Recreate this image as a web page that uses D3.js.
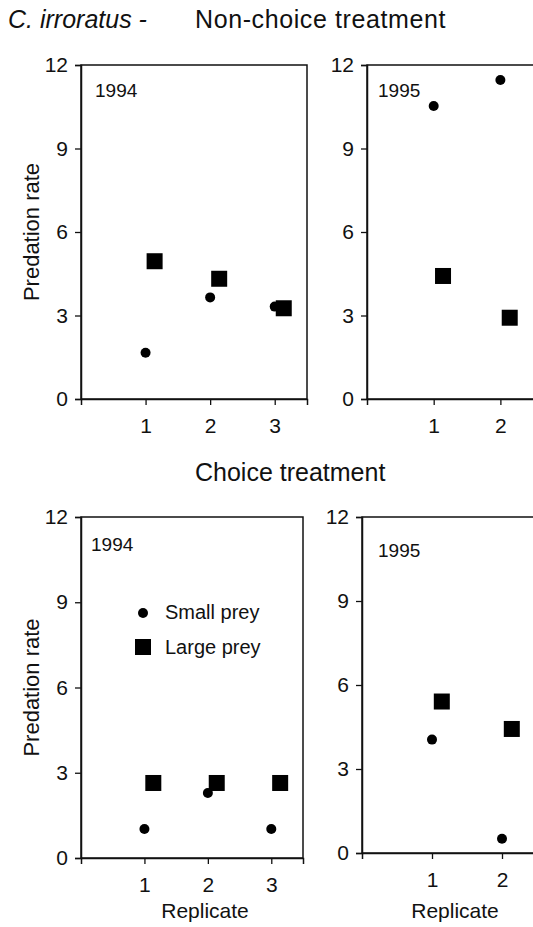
<!DOCTYPE html>
<html><head><meta charset="utf-8">
<script src="https://cdn.jsdelivr.net/npm/d3@7"></script>
<style>
html,body{margin:0;padding:0;background:#fff;}
svg{display:block;font-family:"Liberation Sans",Arial,sans-serif;}
</style></head>
<body>
<svg id="c" width="533" height="927"></svg>
<script>
// ---- data ----
const yTicks = [0, 3, 6, 9, 12];
const nc1994Reps = [1, 2, 3];
const nc1994Small = [1.66, 3.65, 3.32];
const nc1994Large = [4.95, 4.32, 3.26];
const nc1995Reps = [1, 2];
const nc1995Small = [10.53, 11.46];
const nc1995Large = [4.42, 2.92];
const ch1994Reps = [1, 2, 3];
const ch1994Small = [1.02, 2.29, 1.02];
const ch1994Large = [2.64, 2.64, 2.64];
const ch1995Reps = [1, 2];
const ch1995Small = [4.05, 0.51];
const ch1995Large = [5.41, 4.43];
const legendLabels = ["Small prey", "Large prey"];

const svg = d3.select("#c");
const ink = "#111";
const squareOffset = 0.14;

const panels = [
  {reps: nc1994Reps, small: nc1994Small, large: nc1994Large, year: "1994",
   l: 81, r: 307, t: 65, b: 399, xmax: 3.5, ylab: true, xlab: false, legend: false, yearX: 95, yearY: 97},
  {reps: nc1995Reps, small: nc1995Small, large: nc1995Large, year: "1995",
   l: 367, r: 540.4, t: 65, b: 399, xmax: 2.6, ylab: false, xlab: false, legend: false, yearX: 378, yearY: 97},
  {reps: ch1994Reps, small: ch1994Small, large: ch1994Large, year: "1994",
   l: 81, r: 303, t: 517, b: 858, xmax: 3.5, ylab: true, xlab: true, xlabX: 205, legend: true, yearX: 91, yearY: 551},
  {reps: ch1995Reps, small: ch1995Small, large: ch1995Large, year: "1995",
   l: 362, r: 544, t: 517, b: 853, xmax: 2.6, ylab: false, xlab: true, xlabX: 455, legend: false, yearX: 378, yearY: 557}
];

panels.forEach(p => {
  const x = d3.scaleLinear().domain([0, p.xmax]).range([p.l, p.r]);
  const y = d3.scaleLinear().domain([0, 12]).range([p.b, p.t]);
  const g = svg.append("g");

  g.append("rect").attr("x", p.l).attr("y", p.t).attr("width", p.r - p.l).attr("height", p.b - p.t)
    .attr("fill", "none").attr("stroke", ink).attr("stroke-width", 1.5);

  const ya = g.append("g").attr("transform", `translate(${p.l},0)`)
    .call(d3.axisLeft(y).tickValues(yTicks).tickSize(6).tickPadding(7).tickFormat(d3.format("d")));
  ya.select(".domain").attr("stroke", ink).attr("stroke-width", 1.5);
  ya.selectAll(".tick line").attr("stroke", ink).attr("stroke-width", 1.3);
  ya.selectAll(".tick text").attr("font-size", 21).attr("fill", ink).attr("font-family", "Liberation Sans, Arial, sans-serif");

  const xa = g.append("g").attr("transform", `translate(0,${p.b})`)
    .call(d3.axisBottom(x).tickValues(p.reps).tickSize(6).tickPadding(13).tickFormat(d3.format("d")));
  xa.select(".domain").attr("stroke", ink).attr("stroke-width", 1.5);
  xa.selectAll(".tick line").attr("stroke", ink).attr("stroke-width", 1.3);
  xa.selectAll(".tick text").attr("font-size", 21).attr("fill", ink).attr("font-family", "Liberation Sans, Arial, sans-serif");

  g.append("text").attr("x", p.yearX).attr("y", p.yearY).attr("font-size", 19).attr("fill", ink).text(p.year);

  g.selectAll("circle.sm").data(p.reps.map((r, i) => ({r, v: p.small[i]}))).join("circle")
    .attr("class", "sm").attr("cx", d => x(d.r)).attr("cy", d => y(d.v)).attr("r", 5).attr("fill", "#000");

  const s = 16;
  g.selectAll("rect.lg").data(p.reps.map((r, i) => ({r, v: p.large[i]}))).join("rect")
    .attr("class", "lg").attr("x", d => x(d.r + squareOffset) - s / 2).attr("y", d => y(d.v) - s / 2)
    .attr("width", s).attr("height", s).attr("fill", "#000");

  if (p.ylab) {
    g.append("text").attr("transform", `translate(${p.l - 42},${(p.t + p.b) / 2}) rotate(-90)`)
      .attr("text-anchor", "middle").attr("font-size", 22).attr("fill", ink).text("Predation rate");
  }
  if (p.xlab) {
    g.append("text").attr("x", p.xlabX).attr("y", 918).attr("text-anchor", "middle")
      .attr("font-size", 21).attr("fill", ink).text("Replicate");
  }
  if (p.legend) {
    const lg = g.append("g");
    lg.append("circle").attr("cx", 143).attr("cy", 613).attr("r", 5).attr("fill", "#000");
    lg.append("text").attr("x", 165).attr("y", 619).attr("font-size", 20).attr("fill", ink).text(legendLabels[0]);
    lg.append("rect").attr("x", 143 - s / 2).attr("y", 647 - s / 2).attr("width", s).attr("height", s).attr("fill", "#000");
    lg.append("text").attr("x", 165).attr("y", 654).attr("font-size", 20).attr("fill", ink).text(legendLabels[1]);
  }
});

svg.append("text").attr("x", 8).attr("y", 28).attr("font-size", 25).attr("font-style", "italic").attr("fill", ink).text("C. irroratus -");
svg.append("text").attr("x", 195).attr("y", 28).attr("font-size", 25).attr("letter-spacing", 0.6).attr("fill", ink).text("Non-choice treatment");
svg.append("text").attr("x", 195).attr("y", 481).attr("font-size", 25).attr("fill", ink).text("Choice treatment");
</script>
</body></html>
